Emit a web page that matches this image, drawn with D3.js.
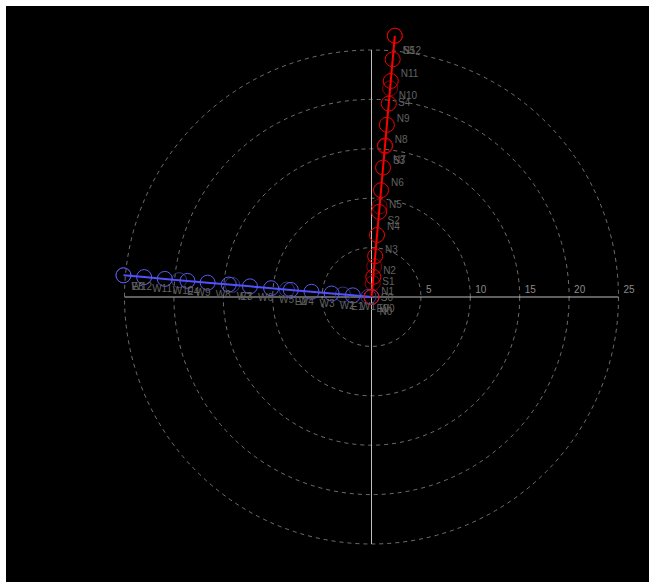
<!DOCTYPE html>
<html>
<head>
<meta charset="utf-8">
<script src="https://cdn.jsdelivr.net/npm/d3@7/dist/d3.min.js"></script>
<style>
  html, body { margin: 0; padding: 0; background: #fff; }
  svg { position: absolute; left: 6px; top: 6px; }
  text { font-family: "Liberation Sans", Arial, sans-serif; font-size: 10px; }
</style>
</head>
<body>
<script>
// ---- data ----
const ringTicks = [5, 10, 15, 20, 25];
const tickLabels = ["5", "10", "15", "20", "25"];

// red series (direction angle in degrees, math convention)
const nAngle = 84.9;
const nLabels = ["N0","N1","N2","N3","N4","N5","N6","N7","N8","N9","N10","N11","N12"];
const nValues = [0, 2.05, 4.15, 6.3, 8.65, 10.85, 13.15, 15.4, 17.5, 19.65, 21.95, 24.15, 26.55];
const sLabels = ["S0","S1","S2","S3","S4","S5"];
const sValues = [1.4, 3.1, 9.2, 15.3, 21.2, 26.55];

// blue series
const wAngle = 175.0;
const wLabels = ["W0","W1","W2","W3","W4","W5","W6","W7","W8","W9","W10","W11","W12"];
const wValues = [0, 1.9, 4.05, 6.1, 8.2, 10.2, 12.35, 14.5, 16.65, 18.7, 21.0, 23.1, 25.2];
const eLabels = ["E0","E1","E2","E3","E4","E5"];
const eValues = [0.3, 2.9, 8.6, 14.15, 19.55, 25.2];

// ---- layout ----
const W = 643, H = 576;
const cx = 365.5, cy = 291;
const R = 247;

const svg = d3.select("body").append("svg").attr("width", W).attr("height", H);
svg.append("rect").attr("width", W).attr("height", H).attr("fill", "#000");

const r = d3.scaleLinear().domain([0, 25]).range([0, R]);
const g = svg.append("g").attr("transform", `translate(${cx},${cy})`);

const px = (v, a) => r(v) * Math.cos(a * Math.PI / 180);
const py = (v, a) => -r(v) * Math.sin(a * Math.PI / 180);

// grid rings
g.selectAll("circle.ring").data(ringTicks).enter().append("circle")
  .attr("class", "ring")
  .attr("r", d => r(d))
  .attr("fill", "none")
  .attr("stroke", "#8c8c8c")
  .attr("stroke-width", 0.8)
  .attr("stroke-dasharray", "4,4");

// axes
g.append("line").attr("x1", -r(25)).attr("x2", r(25)).attr("y1", 0).attr("y2", 0)
  .attr("stroke", "#bdbdbd").attr("stroke-width", 1);
g.append("line").attr("y1", -r(25)).attr("y2", r(25)).attr("x1", 0).attr("x2", 0)
  .attr("stroke", "#bdbdbd").attr("stroke-width", 1);

// tick labels
g.selectAll("text.tick").data(ringTicks).enter().append("text")
  .attr("class", "tick")
  .attr("x", d => r(d) + 5)
  .attr("y", -4)
  .attr("fill", "#8a8a8a")
  .text((d, i) => tickLabels[i]);

function drawSeries(values, labels, angle, opts) {
  const pts = values.map((v, i) => ({ v, label: labels[i] }));
  if (opts.line) {
    const line = d3.line().x(d => px(d.v, angle)).y(d => py(d.v, angle));
    g.append("path").datum(pts)
      .attr("d", line)
      .attr("fill", "none")
      .attr("stroke", opts.lineColor)
      .attr("stroke-width", 2);
  }
  g.selectAll(null).data(pts).enter().append("circle")
    .attr("cx", d => px(d.v, angle))
    .attr("cy", d => py(d.v, angle))
    .attr("r", 7.5)
    .attr("fill", "none")
    .attr("stroke", opts.circleColor)
    .attr("stroke-width", 1);
  return pts;
}

function drawLabels(pts, angle, dy) {
  g.selectAll(null).data(pts).enter().append("text")
    .attr("x", d => px(d.v, angle) + 8)
    .attr("y", d => py(d.v, angle) + dy)
    .attr("fill", "#626262")
    .text(d => d.label);
}

const sPts = drawSeries(sValues, sLabels, nAngle, { line: false, circleColor: "#8f0000" });
const ePts = drawSeries(eValues, eLabels, wAngle, { line: false, circleColor: "#35357f" });
const wPts = drawSeries(wValues, wLabels, wAngle, { line: true, lineColor: "#5050ff", circleColor: "#5a5aee" });
const nPts = drawSeries(nValues, nLabels, nAngle, { line: true, lineColor: "#ff0000", circleColor: "#ee0000" });

drawLabels(sPts, nAngle, 18);
drawLabels(nPts, nAngle, 18);
drawLabels(ePts, wAngle, 15);
drawLabels(wPts, wAngle, 15);
</script>
</body>
</html>
